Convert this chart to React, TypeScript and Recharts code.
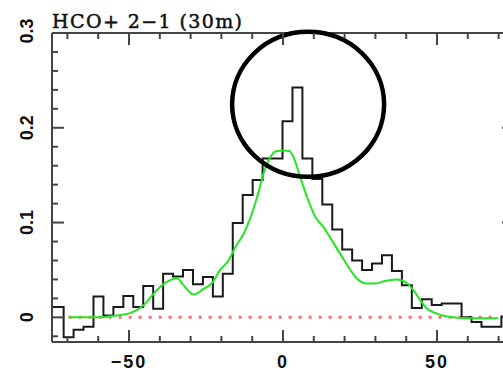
import React from 'react';
import { ComposedChart, Line, XAxis, YAxis, ReferenceDot } from 'recharts';

// HCO+ 2-1 spectrum: channel left edges (km/s); the last entry closes the final channel
const channelEdges = [
  -75.0, -71.22, -67.99, -64.76, -61.53, -58.3, -55.07, -51.84, -48.61, -45.38,
  -42.15, -38.92, -35.69, -32.46, -29.23, -26.0, -22.77, -19.54, -16.31, -13.08,
  -9.85, -6.62, -3.39, -0.16, 3.07, 6.3, 9.53, 12.76, 15.99, 19.22,
  22.45, 25.68, 28.91, 32.14, 35.37, 38.6, 41.83, 45.06, 48.29, 51.52,
  54.75, 57.98, 61.21, 64.44, 67.67, 70.9, 74.13,
];

// Antenna temperature per channel (K)
const channelTemps = [
  0.011, -0.021, -0.013, -0.01, 0.022, 0.002, 0.011, 0.0225, 0.011, 0.033,
  0.009, 0.046, 0.043, 0.05, 0.035, 0.0425, 0.022, 0.046, 0.0996, 0.129,
  0.145, 0.1676, 0.1676, 0.207, 0.2425, 0.1676, 0.146, 0.119, 0.0926, 0.0715,
  0.06, 0.05, 0.0567, 0.0655, 0.049, 0.034, 0.01, 0.019, 0.013, 0.0145,
  0.0145, 0.0, -0.005, -0.01, -0.01, 0.001, 0.001,
];

// Model profile (green curve)
const modelVelocity = [
  -69.6, -61.5, -53.9, -49.6, -45.3, -42.0, -38.8, -34.4, -32.3, -29.0,
  -25.8, -23.1, -20.4, -17.7, -15.5, -12.8, -10.6, -8.4, -6.3, -4.1,
  -2.5, 0.2, 2.1, 3.4, 5.6, 7.8, 10.5, 13.2, 15.9, 18.6,
  21.9, 24.0, 27.3, 30.0, 32.7, 37.0, 40.3, 42.4, 44.6, 46.8,
  50.0, 54.3, 60.8, 69.9,
];
const modelTemps = [
  0.0, 0.0, 0.002, 0.0045, 0.0127, 0.025, 0.035, 0.041, 0.034, 0.024,
  0.03, 0.036, 0.05, 0.06, 0.074, 0.088, 0.105, 0.127, 0.152, 0.169,
  0.175, 0.176, 0.1756, 0.169, 0.148, 0.127, 0.106, 0.095, 0.081, 0.067,
  0.05, 0.041, 0.0356, 0.0356, 0.038, 0.04, 0.036, 0.0285, 0.018, 0.009,
  0.004, 0.0003, -0.001, -0.001,
];

// Zero baseline extent
const baselineVelocity = [-69.6, 69.5];
const baselineTemps = [0, 0];

// Highlight ring around the peak
const ringCenterVelocity = 8.15;
const ringCenterTemp = 0.2247;

// Axis ticks
const xTicks = [-70, -60, -50, -40, -30, -20, -10, 0, 10, 20, 30, 40, 50, 60, 70];
const xMajor = [-50, 0, 50];
const yTicks = [
  -0.02, 0, 0.02, 0.04, 0.06, 0.08, 0.1, 0.12, 0.14, 0.16, 0.18, 0.2, 0.22, 0.24,
  0.26, 0.28, 0.3,
];
const yMajor = [0, 0.1, 0.2, 0.3];
const yLabels = ['0', '0.1', '0.2', '0.3'];
const xLabels = ['\u221250', '0', '50'];

const histData = channelEdges.map((v, i) => ({ v, t: channelTemps[i] }));
const modelData = modelVelocity.map((v, i) => ({ v, t: modelTemps[i] }));
const baselineData = baselineVelocity.map((v, i) => ({ v, t: baselineTemps[i] }));

const FRAME = '#454545';
const MAJOR = 12;
const MINOR = 6;
const labelFont = {
  fontFamily: '"Liberation Sans", Arial, sans-serif',
  fontWeight: 700 as const,
  fontSize: 18,
  fill: '#111',
};

const majorIndex = (list: number[], val: number) =>
  list.findIndex((m) => Math.abs(m - val) < 1e-6);

const BottomTick = (p: any) => {
  const idx = majorIndex(xMajor, p.payload.value);
  const len = idx >= 0 ? MAJOR : MINOR;
  return (
    <g>
      <line x1={p.x} y1={p.y} x2={p.x} y2={p.y - len} stroke={FRAME} strokeWidth={2} />
      {idx >= 0 && (
        <text x={p.x} y={p.y + 26} textAnchor="middle" letterSpacing={2} {...labelFont}>
          {xLabels[idx]}
        </text>
      )}
    </g>
  );
};

const TopTick = (p: any) => {
  const idx = majorIndex(xMajor, p.payload.value);
  const len = idx >= 0 ? MAJOR : MINOR;
  return <line x1={p.x} y1={p.y} x2={p.x} y2={p.y + len} stroke={FRAME} strokeWidth={2} />;
};

const LeftTick = (p: any) => {
  const idx = majorIndex(yMajor, p.payload.value);
  const len = idx >= 0 ? MAJOR : MINOR;
  const lx = p.x - 25;
  const ly = p.y - (idx === 3 ? 2 : 0);
  return (
    <g>
      <line x1={p.x} y1={p.y} x2={p.x + len} y2={p.y} stroke={FRAME} strokeWidth={2} />
      {idx >= 0 && (
        <text
          x={lx}
          y={ly}
          textAnchor="middle"
          dominantBaseline="central"
          transform={`rotate(-90 ${lx} ${ly})`}
          {...labelFont}
        >
          {yLabels[idx]}
        </text>
      )}
    </g>
  );
};

const RightTick = (p: any) => {
  const idx = majorIndex(yMajor, p.payload.value);
  const len = idx >= 0 ? MAJOR : MINOR;
  return <line x1={p.x} y1={p.y} x2={p.x - len} y2={p.y} stroke={FRAME} strokeWidth={2} />;
};

const Ring = (p: any) => (
  <ellipse cx={p.cx} cy={p.cy} rx={76} ry={72.5} fill="none" stroke="#000" strokeWidth={4.5} />
);

export default function App() {
  return (
    <div
      style={{
        position: 'absolute',
        left: 0,
        top: 0,
        width: 503,
        height: 372,
        overflow: 'hidden',
        background: '#fff',
      }}
    >
      <ComposedChart width={515} height={372} margin={{ top: 32, left: 51, right: 0, bottom: 29 }}>
        <XAxis
          xAxisId="b"
          dataKey="v"
          type="number"
          domain={[-75, 75]}
          allowDataOverflow
          ticks={xTicks}
          interval={0}
          height={1}
          tickSize={0}
          tickMargin={0}
          tickLine={false}
          axisLine={{ stroke: FRAME, strokeWidth: 2 }}
          tick={BottomTick}
        />
        <XAxis
          xAxisId="t"
          dataKey="v"
          orientation="top"
          type="number"
          domain={[-75, 75]}
          allowDataOverflow
          ticks={xTicks}
          interval={0}
          height={1}
          tickSize={0}
          tickMargin={0}
          tickLine={false}
          axisLine={{ stroke: FRAME, strokeWidth: 2 }}
          tick={TopTick}
        />
        <YAxis
          yAxisId="l"
          type="number"
          domain={[-0.026, 0.3]}
          allowDataOverflow
          ticks={yTicks}
          interval={0}
          width={1}
          tickSize={0}
          tickMargin={0}
          tickLine={false}
          axisLine={{ stroke: FRAME, strokeWidth: 2 }}
          tick={LeftTick}
        />
        <YAxis
          yAxisId="r"
          orientation="right"
          type="number"
          domain={[-0.026, 0.3]}
          allowDataOverflow
          ticks={yTicks}
          interval={0}
          width={1}
          tickSize={0}
          tickMargin={0}
          tickLine={false}
          axisLine={{ stroke: FRAME, strokeWidth: 2 }}
          tick={RightTick}
        />
        <Line
          xAxisId="t"
          yAxisId="r"
          data={baselineData}
          dataKey="t"
          type="linear"
          stroke="none"
          dot={false}
          legendType="none"
          isAnimationActive={false}
        />
        <Line
          xAxisId="b"
          yAxisId="l"
          data={baselineData}
          dataKey="t"
          type="linear"
          stroke="#ff6f6f"
          strokeWidth={3}
          strokeDasharray="3 7"
          dot={false}
          isAnimationActive={false}
        />
        <Line
          xAxisId="b"
          yAxisId="l"
          data={histData}
          dataKey="t"
          type="stepAfter"
          stroke="#1a1a1a"
          strokeWidth={2}
          dot={false}
          isAnimationActive={false}
        />
        <Line
          xAxisId="b"
          yAxisId="l"
          data={modelData}
          dataKey="t"
          type="monotone"
          stroke="#22e622"
          strokeWidth={2}
          dot={false}
          isAnimationActive={false}
        />
        <ReferenceDot
          xAxisId="b"
          yAxisId="l"
          x={ringCenterVelocity}
          y={ringCenterTemp}
          r={74}
          ifOverflow="visible"
          shape={<Ring />}
        />
      </ComposedChart>
      <svg
        width={503}
        height={40}
        style={{ position: 'absolute', left: 0, top: 0, pointerEvents: 'none' }}
      >
        <text
          x={52}
          y={28}
          fontFamily='"DejaVu Serif", "Liberation Serif", serif'
          fontSize={19}
          letterSpacing={1.4}
          fill="#111"
          stroke="#111"
          strokeWidth={0.5}
        >
          HCO+ 2{'\u2212'}1 (30m)
        </text>
      </svg>
    </div>
  );
}
